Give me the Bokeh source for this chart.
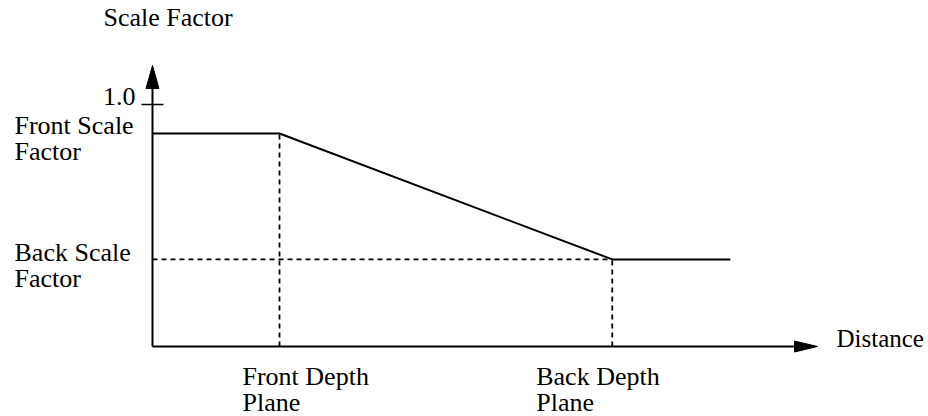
from bokeh.plotting import figure
from bokeh.models import Range1d, ColumnDataSource
from bokeh.core.properties import value
from bokeh.embed import file_html
from bokeh.resources import INLINE

# ---- data (diagram values) ----
distance = [0.0, 1.0, 3.62, 4.55]          # distance units (front depth plane = 1)
scale = [0.88, 0.88, 0.36, 0.36]           # scale factor along distance
front_plane = 1.0
back_plane = 3.62
front_scale = 0.88
back_scale = 0.36
max_scale_tick = 1.0
tick_label = "1.0"
x_axis_end = 5.236
y_axis_end = 1.161
y_title = "Scale Factor"
x_title = "Distance"
front_scale_lines = ["Front Scale", "Factor"]
back_scale_lines = ["Back Scale", "Factor"]
front_plane_lines = ["Front Depth", "Plane"]
back_plane_lines = ["Back Depth", "Plane"]

# ---- layout ----
W, H = 928, 416
OX, OY = 152, 346           # canvas pixel of the data origin
XS, YS = 127.0, 242.0       # pixels per data unit
LIFT = 9                    # baseline correction in px


def dx(px):
    return px / XS


def dy(px):
    return px / YS


p = figure(width=W, height=H, output_backend="svg", toolbar_location=None,
           x_range=Range1d(-OX / XS, (W - OX) / XS),
           y_range=Range1d(-(H - OY) / YS, OY / YS),
           x_axis_location=None, y_axis_location=None, min_border=0)
p.grid.visible = False
p.outline_line_color = None
p.background_fill_color = "white"
p.border_fill_color = "white"

INK = "black"
FONT = value("Liberation Serif")
FS = "26px"

# axes
p.line([0, 0], [0, y_axis_end - dy(20)], line_color=INK, line_width=2)
p.line([0, x_axis_end - dx(20)], [0, 0], line_color=INK, line_width=2)
p.patch([0, -dx(6.5), dx(6.5)], [y_axis_end, y_axis_end - dy(23), y_axis_end - dy(23)],
        fill_color=INK, line_color=INK, line_width=1)
p.patch([x_axis_end, x_axis_end - dx(23), x_axis_end - dx(23)], [0, dy(5.5), -dy(5.5)],
        fill_color=INK, line_color=INK, line_width=1)

# tick at 1.0
p.line([-dx(11), dx(11)], [max_scale_tick, max_scale_tick], line_color=INK, line_width=1.5)

# dashed guides
p.line([front_plane, front_plane], [0, front_scale], line_color=INK, line_width=1.8, line_dash="5 4")
p.line([back_plane, back_plane], [0, back_scale], line_color=INK, line_width=1.8, line_dash="5 4")
p.line([0, back_plane], [back_scale, back_scale], line_color=INK, line_width=1.8, line_dash="5 4")

# profile
p.line(distance, scale, line_color=INK, line_width=2)

# texts
rows = dict(x=[], y=[], t=[], align=[], size=[])


def add(lines, x, y, align="left", lh=26, size=FS):
    for i, s in enumerate(lines):
        rows["x"].append(x)
        rows["y"].append(y - dy(i * lh) + dy(LIFT))
        rows["t"].append(s)
        rows["align"].append(align)
        rows["size"].append(size)


add([y_title], -dx(49), y_axis_end + dy(39))
add([tick_label], -dx(17), max_scale_tick + dy(-1), align="right")
add(front_scale_lines, -dx(138), front_scale - dy(1))
add(back_scale_lines, -dx(138), back_scale - dy(2))
add(front_plane_lines, front_plane - dx(37), -dy(39))
add(back_plane_lines, back_plane - dx(76), -dy(39))
add([x_title], x_axis_end + dx(19), -dy(1), size="25px")

src = ColumnDataSource(rows)
p.text(x="x", y="y", text="t", source=src, text_align="align",
       text_baseline="alphabetic", text_font=FONT, text_font_size="size",
       text_color=INK)

open("out.html", "w").write(file_html(p, INLINE))
